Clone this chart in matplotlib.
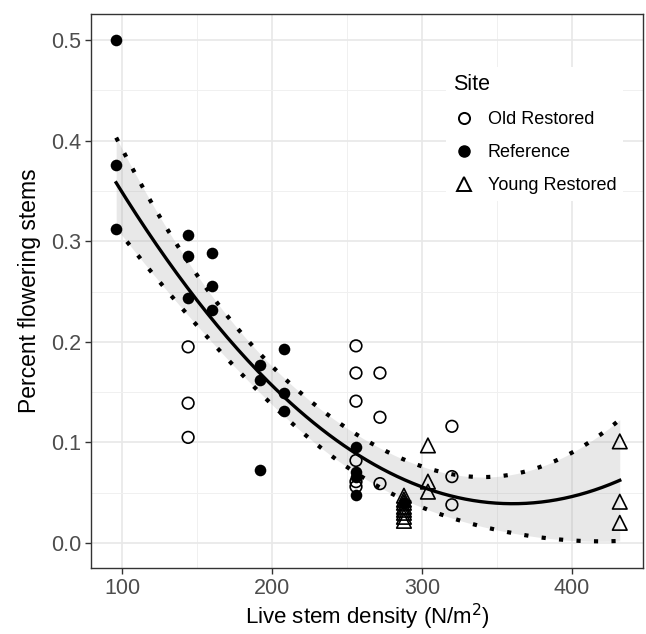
import numpy as np
import matplotlib
matplotlib.use("Agg")
import matplotlib.pyplot as plt
from matplotlib.lines import Line2D

plt.rcParams['font.family'] = ['Liberation Sans', 'DejaVu Sans']

# ---- data ----
ref_x = [96, 96, 96, 144, 144, 144, 160, 160, 160, 192, 192, 192, 208, 208, 208,
         256, 256, 256, 256, 288]
ref_y = [0.500, 0.376, 0.312, 0.306, 0.285, 0.244, 0.288, 0.256, 0.232, 0.177, 0.162, 0.073,
         0.193, 0.149, 0.131, 0.095, 0.071, 0.066, 0.048, 0.040]

old_x = [144, 144, 144, 256, 256, 256, 256, 256, 256, 272, 272, 272, 320, 320, 320]
old_y = [0.195, 0.139, 0.105, 0.196, 0.169, 0.141, 0.082, 0.061, 0.056,
         0.169, 0.125, 0.059, 0.116, 0.066, 0.038]

young_x = [288, 288, 288, 288, 288, 288, 288, 288, 304, 304, 304, 432, 432, 432]
young_y = [0.047, 0.043, 0.040, 0.036, 0.033, 0.030, 0.026, 0.022,
           0.097, 0.061, 0.051, 0.101, 0.041, 0.020]

legend_labels = ["Old Restored", "Reference", "Young Restored"]
x_ticks = [100, 200, 300, 400]
y_ticks = [0.0, 0.1, 0.2, 0.3, 0.4, 0.5]

# ---- quadratic fit (y ~ poly(x, 2)) with 95% confidence band ----
X = np.array(ref_x + old_x + young_x, dtype=float)
Y = np.array(ref_y + old_y + young_y, dtype=float)
A = np.column_stack([np.ones_like(X), X, X ** 2])
beta, res, rank, sv = np.linalg.lstsq(A, Y, rcond=None)
n, p = A.shape
resid = Y - A @ beta
s2 = resid @ resid / (n - p)
cov = s2 * np.linalg.inv(A.T @ A)
xs = np.linspace(X.min(), X.max(), 200)
As = np.column_stack([np.ones_like(xs), xs, xs ** 2])
fit = As @ beta
se = np.sqrt(np.einsum('ij,jk,ik->i', As, cov, As))
tcrit = 2.01
lo, hi = fit - tcrit * se, fit + tcrit * se

# ---- figure ----
fig = plt.figure(figsize=(6.46, 6.34), dpi=100)
ax = fig.add_axes([91 / 646, 1 - 568 / 634, (643 - 91) / 646, (568 - 14) / 634])

ax.set_xlim(79.2, 447.5)
ax.set_ylim(-0.0249, 0.526)

ax.set_xticks(x_ticks)
ax.set_xticks([150, 250, 350], minor=True)
ax.set_yticks(y_ticks)
ax.set_yticks([0.05, 0.15, 0.25, 0.35, 0.45], minor=True)
ax.set_yticklabels([f"{v:.1f}" for v in y_ticks])

ax.grid(which='major', color='#E8E8E8', linewidth=1.2, zorder=0)
ax.grid(which='minor', color='#F0F0F0', linewidth=0.7, zorder=0)
ax.set_axisbelow(True)

for sp in ax.spines.values():
    sp.set_color('#333333')
    sp.set_linewidth(1.0)

ax.tick_params(axis='both', which='major', direction='out', length=4, width=1,
               color='#333333', labelcolor='#4D4D4D', labelsize=15.5, pad=3)
ax.tick_params(axis='both', which='minor', length=0)

# band, dotted bounds, fit
ax.fill_between(xs, lo, hi, color='#999999', alpha=0.22, linewidth=0, zorder=1)
ax.plot(xs, hi, color='black', linewidth=3, linestyle=(0, (1, 3.2)), zorder=2)
ax.plot(xs, lo, color='black', linewidth=3, linestyle=(0, (1, 3.2)), zorder=2)
ax.plot(xs, fit, color='black', linewidth=2.4, zorder=3)

# points
ax.scatter(old_x, old_y, s=70, facecolors='none', edgecolors='black', linewidths=1.2, zorder=4)
ax.scatter(ref_x, ref_y, s=70, color='black', linewidths=0, zorder=4)
ax.scatter(young_x, young_y, s=110, marker='^', facecolors='none', edgecolors='black',
           linewidths=1.2, zorder=4)

ax.set_xlabel("Live stem density (N/m$^2$)", fontsize=16, color='black', labelpad=2)
ax.set_ylabel("Percent flowering stems", fontsize=16.5, color='black', labelpad=7)

handles = [
    Line2D([], [], marker='o', linestyle='none', markerfacecolor='none',
           markeredgecolor='black', markeredgewidth=1.4, markersize=8),
    Line2D([], [], marker='o', linestyle='none', color='black', markersize=8),
    Line2D([], [], marker='^', linestyle='none', markerfacecolor='none',
           markeredgecolor='black', markeredgewidth=1.4, markersize=10),
]
leg = ax.legend(handles, legend_labels, title="Site", loc='upper left',
                bbox_to_anchor=((437 - 91) / 552, (568 - 58) / 554),
                frameon=True, fontsize=13, title_fontsize=15.5, handletextpad=0.7,
                labelspacing=0.88, borderpad=0.4, handlelength=1.2)
leg.get_frame().set_edgecolor('none')
leg.get_frame().set_facecolor('white')
leg.get_frame().set_alpha(1)
leg._legend_box.align = "left"

fig.savefig("out.png", dpi=100)
